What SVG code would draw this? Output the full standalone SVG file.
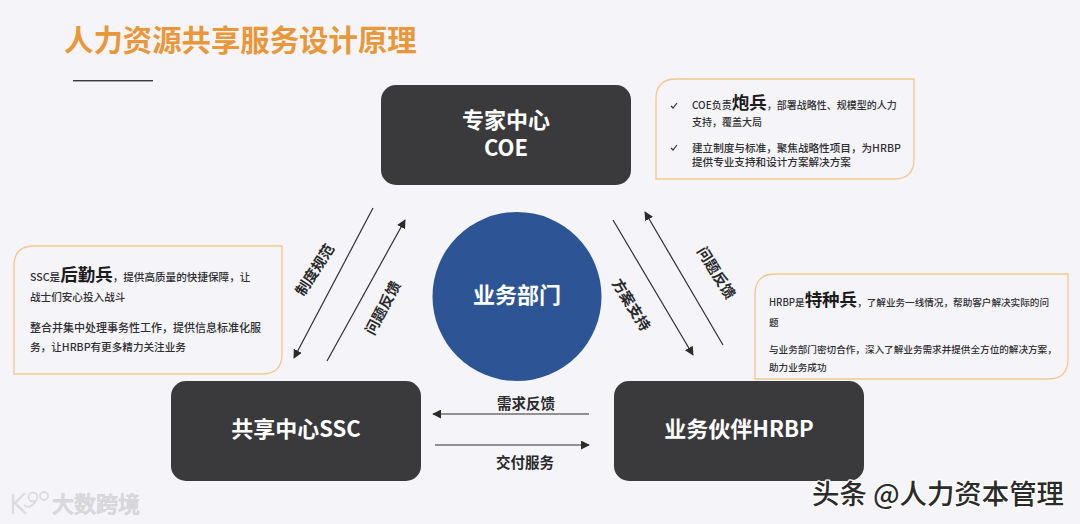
<svg xmlns="http://www.w3.org/2000/svg" width="1080" height="524" viewBox="0 0 1080 524">
<defs>
<marker id="ah" viewBox="0 0 10 10" refX="9" refY="5" markerWidth="9" markerHeight="9" markerUnits="userSpaceOnUse" orient="auto"><path d="M0 0L10 5L0 10Z" fill="#2b2b2b"/></marker>
</defs>
<style>
text{font-family:"Noto Sans CJK SC","Liberation Sans",sans-serif}
.node{fill:#3a3a3c}
.nl{fill:#fff;font-size:22px;font-weight:700;text-anchor:middle}
.card{fill:#f5f4f8;stroke:#f2c88f;stroke-width:1.3}
.t{fill:#2f2f33;font-size:10.6px;font-weight:500}
.b{font-size:17.5px;font-weight:700;fill:#1c1c1e}
.cl{fill:#2a2a2c;font-size:14.5px;font-weight:700;text-anchor:middle}
.c{stroke:#2f2f2f;stroke-width:1.2;fill:none;marker-end:url(#ah)}
.wm{font-weight:500;paint-order:stroke;stroke-linejoin:round}
</style>
<rect width="1080" height="524" fill="#f5f4f8"/>
<g id="title">
<text x="64" y="51" font-size="29.4" font-weight="700" fill="#e8973a">人力资源共享服务设计原理</text>
<rect x="73" y="80" width="80" height="1.4" fill="#3a3a3c"/>
</g>
<g id="connectors">
<line class="c" x1="373" y1="208" x2="294" y2="358"/>
<line class="c" x1="327" y1="361" x2="405" y2="220"/>
<line class="c" x1="613" y1="220" x2="693" y2="355"/>
<line class="c" x1="723" y1="345" x2="645" y2="212"/>
<line class="c" x1="589" y1="414" x2="433" y2="414"/>
<line class="c" x1="435" y1="445" x2="589" y2="445"/>
</g>
<g id="connector-labels">
<text class="cl" transform="translate(315 270) rotate(-57)" y="5">制度规范</text>
<text class="cl" transform="translate(383 308) rotate(-62)" y="5">问题反馈</text>
<text class="cl" transform="translate(631 305) rotate(58)" y="5">方案支持</text>
<text class="cl" transform="translate(716 273) rotate(58)" y="5">问题反馈</text>
<text class="cl" x="526" y="409">需求反馈</text>
<text class="cl" x="525" y="468">交付服务</text>
</g>
<g id="node-coe">
<rect class="node" x="381" y="85" width="250" height="100" rx="15"/>
<text class="nl" x="506" y="128">专家中心</text>
<text class="nl" x="506" y="156">COE</text>
</g>
<g id="node-ssc">
<rect class="node" x="171" y="381" width="250" height="100" rx="15"/>
<text class="nl" x="296" y="437">共享中心SSC</text>
</g>
<g id="node-hrbp">
<rect class="node" x="614" y="381" width="250" height="100" rx="15"/>
<text class="nl" x="739" y="437">业务伙伴HRBP</text>
</g>
<g id="node-business">
<circle cx="517" cy="296.5" r="84.5" fill="#2d5596"/>
<text class="nl" x="517" y="303">业务部门</text>
</g>
<g id="card-coe">
<path class="card" d="M676 79H914V159Q914 179 894 179H656V99Q656 79 676 79Z"/>
<path d="M671 106L673 108L677 103M671 148L673 150L677 145" fill="none" stroke="#333" stroke-width="1.2"/>
<text class="t" x="692" y="109" font-size="10" style="font-size:10px">COE负责<tspan class="b">炮兵</tspan>，部署战略性、规模型的人力</text>
<text class="t" x="692" y="126" style="font-size:10px">支持，覆盖大局</text>
<text class="t" x="692" y="152">建立制度与标准，聚焦战略性项目，为HRBP</text>
<text class="t" x="692" y="166">提供专业支持和设计方案解决方案</text>
</g>
<g id="card-ssc">
<path class="card" d="M34 246H282V354Q282 374 262 374H14V266Q14 246 34 246Z"/>
<text class="t" x="30" y="281">SSC是<tspan class="b">后勤兵</tspan>，提供高质量的快捷保障，让</text>
<text class="t" x="30" y="301">战士们安心投入战斗</text>
<text class="t" x="30" y="332" style="font-size:11px">整合并集中处理事务性工作，提供信息标准化服</text>
<text class="t" x="30" y="351">务，让HRBP有更多精力关注业务</text>
</g>
<g id="card-hrbp">
<path class="card" d="M775 274H1068V359Q1068 379 1048 379H755V294Q755 274 775 274Z"/>
<text class="t" x="769" y="306" style="font-size:9.6px">HRBP是<tspan class="b">特种兵</tspan>，了解业务一线情况，帮助客户解决实际的问</text>
<text class="t" x="769" y="326" style="font-size:9.6px">题</text>
<text class="t" x="769" y="353" style="font-size:9.6px">与业务部门密切合作，深入了解业务需求并提供全方位的解决方案，</text>
<text class="t" x="769" y="371" style="font-size:9.6px">助力业务成功</text>
</g>
<g id="watermarks">
<path d="M13 494V514M25 493L15 503L26 514" fill="none" stroke="#dcdce0" stroke-width="2.4"/>
<circle cx="33" cy="497" r="4.5" fill="none" stroke="#dcdce0" stroke-width="1.8"/>
<circle cx="44" cy="496" r="4" fill="none" stroke="#dcdce0" stroke-width="1.8"/>
<path d="M24 505Q30 510 36 501" fill="none" stroke="#dcdce0" stroke-width="2"/>
<text class="wm" x="52" y="512" font-size="22" fill="#d9d9dd" stroke="#bdbdc2" stroke-width="0.5">大数跨境</text>
<text class="wm" x="812" y="504" font-size="27.4" fill="#2b2b2b" stroke="#fff" stroke-width="2.5">头条 @人力资本管理</text>
</g>
</svg>
